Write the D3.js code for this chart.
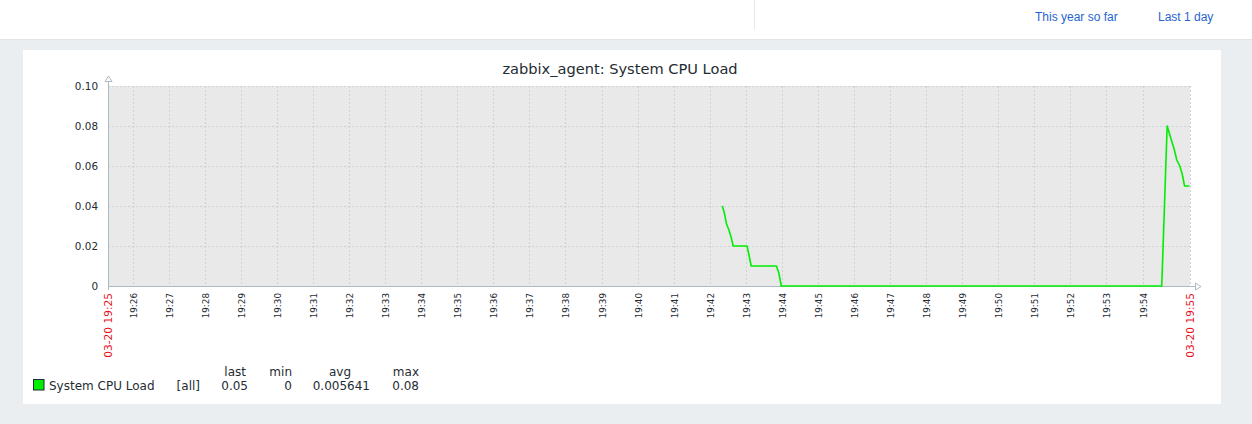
<!DOCTYPE html>
<html><head><meta charset="utf-8">
<script src="https://cdn.jsdelivr.net/npm/d3@7"></script>
<style>
html,body{margin:0;padding:0;background:#ebeef0;}
svg{display:block;}
</style></head>
<body>
<svg id="c" width="1252" height="424"></svg>
<script>
// ---- data ----
const title = "zabbix_agent: System CPU Load";
const periodStart = "03-20 19:25:19";
const periodEnd = "03-20 19:55:19";
const times = ["19:42:21","19:42:24","19:42:28","19:42:32","19:42:36","19:42:39","19:43:02","19:43:05","19:43:09","19:43:51","19:43:55","19:43:59","19:54:32","19:54:41","19:54:43","19:54:47","19:54:50","19:54:53","19:54:57","19:55:02","19:55:06","19:55:10","19:55:18"];
const cpuLoad = [0.040,0.037,0.031,0.028,0.024,0.020,0.020,0.016,0.010,0.010,0.0065,0,0,0.080,0.078,0.074,0.071,0.068,0.063,0.060,0.056,0.050,0.050];
const yTicks = [0,0.02,0.04,0.06,0.08,0.10];
const minuteLabels = ["19:26","19:27","19:28","19:29","19:30","19:31","19:32","19:33","19:34","19:35","19:36","19:37","19:38","19:39","19:40","19:41","19:42","19:43","19:44","19:45","19:46","19:47","19:48","19:49","19:50","19:51","19:52","19:53","19:54"];
const seriesName = "System CPU Load";
const legendHeaders = ["last","min","avg","max"];
const legendValues = ["0.05","0","0.005641","0.08"];
const headerLinks = ["This year so far","Last 1 day"];

// ---- drawing ----
const svg = d3.select("#c");
const textCol = "#1f2c33";
const font = "'DejaVu Sans', sans-serif";

// header
svg.append("rect").attr("x",0).attr("y",0).attr("width",1252).attr("height",39).attr("fill","#fff");
svg.append("line").attr("x1",0).attr("x2",1252).attr("y1",39.5).attr("y2",39.5).attr("stroke","#dfe4e7");
svg.append("line").attr("x1",754.5).attr("x2",754.5).attr("y1",0).attr("y2",29).attr("stroke","#e6e9eb");
const linkX = [1035,1158];
svg.selectAll("text.link").data(headerLinks).join("text").attr("class","link")
  .attr("x",(d,i)=>linkX[i]).attr("y",21)
  .attr("font-family","'Liberation Sans', Arial, sans-serif").attr("font-size",12)
  .attr("fill","#1f65d0").text(d=>d);

// panel
svg.append("rect").attr("x",23).attr("y",50).attr("width",1198).attr("height",354).attr("fill","#fff");

// scales
const pFull = d3.timeParse("%m-%d %H:%M:%S");
const pT = d => pFull("03-20 " + d);
const pMin = d => pFull("03-20 " + d + ":00");
const x = d3.scaleTime().domain([pFull(periodStart), pFull(periodEnd)]).range([108,1190]);
const y = d3.scaleLinear().domain([0,0.1]).range([286,86]);

// plot background
svg.append("rect").attr("x",x.range()[0]).attr("y",y(0.1)).attr("width",x.range()[1]-x.range()[0])
  .attr("height",y(0)-y(0.1)).attr("fill","#e9e9e9");

const gridCol = "#c9d3d8";
// horizontal grid
svg.append("g").selectAll("line").data(yTicks.filter(v=>v>0)).join("line")
  .attr("x1",x.range()[0]).attr("x2",x.range()[1])
  .attr("y1",d=>Math.round(y(d))+0.5).attr("y2",d=>Math.round(y(d))+0.5)
  .attr("stroke",gridCol).attr("stroke-dasharray","2,2");
// vertical grid
svg.append("g").selectAll("line").data(minuteLabels).join("line")
  .attr("x1",d=>Math.round(x(pMin(d)))+0.5).attr("x2",d=>Math.round(x(pMin(d)))+0.5)
  .attr("y1",y(0.1)).attr("y2",y(0))
  .attr("stroke",gridCol).attr("stroke-dasharray","2,2");
svg.append("line").attr("x1",x.range()[1]+0.5).attr("x2",x.range()[1]+0.5).attr("y1",y(0.1)).attr("y2",y(0))
  .attr("stroke",gridCol).attr("stroke-dasharray","2,2");

// axes
const axCol = "#acbbc2";
const x0 = x.range()[0]+0.5, yb = y(0)+0.5;
svg.append("line").attr("x1",x0).attr("x2",x0).attr("y1",80).attr("y2",290).attr("stroke",axCol);
svg.append("line").attr("x1",x0).attr("x2",1196).attr("y1",yb).attr("y2",yb).attr("stroke",axCol);
svg.append("path").attr("d",`M${x0},76 L${x0-3.5},81.5 L${x0+3.5},81.5 Z`).attr("fill","#fff").attr("stroke",axCol);
svg.append("path").attr("d",`M1201,${yb} L1195.5,${yb-3.5} L1195.5,${yb+3.5} Z`).attr("fill","#fff").attr("stroke",axCol);

// data line (drawn over the axis like the reference)
const pts = times.map((t,i)=>({t:pT(t), v:cpuLoad[i]}));
svg.append("path").datum(pts)
  .attr("d", d3.line().x(d=>x(d.t)).y(d=>y(d.v)))
  .attr("fill","none").attr("stroke","#00ee00").attr("stroke-width",1.6).attr("stroke-linejoin","round");

// y labels
svg.append("g").selectAll("text").data(yTicks).join("text")
  .attr("x",98).attr("y",d=>y(d)).attr("dy","0.36em").attr("text-anchor","end")
  .attr("font-family",font).attr("font-size",10.4).attr("fill",textCol)
  .text(d=>d===0?"0":d3.format(".2f")(d));

// x minute labels
svg.append("g").selectAll("text").data(minuteLabels).join("text")
  .attr("transform",d=>`translate(${Math.round(x(pMin(d)))+0.5},293) rotate(-90)`)
  .attr("text-anchor","end").attr("dy","0.35em")
  .attr("font-family",font).attr("font-size",8.8).attr("fill",textCol).text(d=>d);
// period ends
const endFmt = d3.timeFormat("%m-%d %H:%M");
svg.append("g").selectAll("text").data([periodStart, periodEnd]).join("text")
  .attr("transform",d=>`translate(${x(pFull(d))+0.5},293) rotate(-90)`)
  .attr("text-anchor","end").attr("dy","0.36em")
  .attr("font-family",font).attr("font-size",10.6).attr("fill","#e8101e").text(d=>endFmt(pFull(d)));

// title
svg.append("text").attr("x",620).attr("y",74).attr("text-anchor","middle")
  .attr("font-family",font).attr("font-size",14.6).attr("fill",textCol).text(title);

// legend
svg.append("rect").attr("x",33.5).attr("y",379.5).attr("width",10.5).attr("height",10.5)
  .attr("fill","#00ee00").attr("stroke","#1f2c33");
svg.append("text").attr("x",49).attr("y",390).attr("font-family",font).attr("font-size",12)
  .attr("fill",textCol).text(seriesName);
svg.append("text").attr("x",200).attr("y",390).attr("text-anchor","end").attr("font-family",font).attr("font-size",12)
  .attr("fill",textCol).text("[all]");
const headEnd = [246,292,351,419];
const valEnd = [248,292,370,419];
svg.append("g").selectAll("text").data(legendHeaders).join("text")
  .attr("x",(d,i)=>headEnd[i]).attr("y",376).attr("text-anchor","end")
  .attr("font-family",font).attr("font-size",12).attr("fill",textCol).text(d=>d);
svg.append("g").selectAll("text").data(legendValues).join("text")
  .attr("x",(d,i)=>valEnd[i]).attr("y",390).attr("text-anchor","end")
  .attr("font-family",font).attr("font-size",12).attr("fill",textCol).text(d=>d);
</script>
</body></html>
